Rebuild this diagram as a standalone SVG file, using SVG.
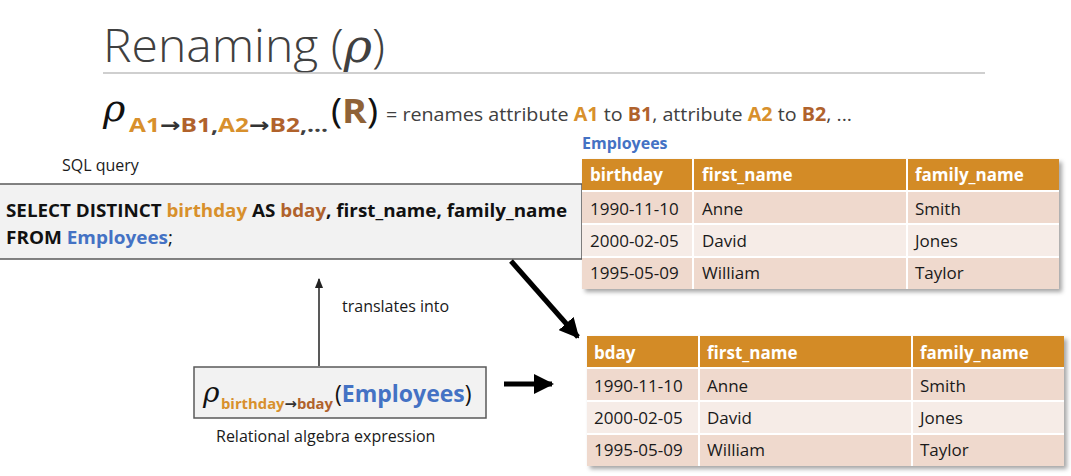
<svg xmlns="http://www.w3.org/2000/svg" width="1071" height="476" viewBox="0 0 1071 476">
<style>
text{font-family:"Open Sans","Noto Sans","Liberation Sans",sans-serif;}
.dk{fill:#404040}
.bk{fill:#111}
.or{fill:#d8902c;font-weight:bold}
.br{fill:#b0622c;font-weight:bold}
.bl{fill:#4472c4;font-weight:bold}
.arr{font-family:"DejaVu Sans",sans-serif;font-weight:bold;fill:#333}
.hd{fill:#d38b26}
.r1{fill:#efd9cd}
.r2{fill:#f6ece7}
.ht{fill:#fff;font-weight:bold;font-size:17px}
.ct{fill:#1a1a1a;font-size:17px}
.sep{stroke:#fff;stroke-width:2}
.box{fill:#f2f2f2;stroke:#595959;stroke-width:1.5}
.lbl{fill:#1a1a1a;font-size:16px}
.greek{font-family:"DejaVu Serif","Liberation Serif",serif;font-style:italic}
</style>
<defs>
<filter id="sh" x="-5%" y="-5%" width="115%" height="120%">
<feDropShadow dx="3" dy="3" stdDeviation="2" flood-color="#000" flood-opacity="0.35"/>
</filter>
<marker id="ah" viewBox="0 0 10 10" refX="9" refY="5" markerWidth="4" markerHeight="4" orient="auto" markerUnits="strokeWidth">
<path d="M0,0 L10,5 L0,10 z" fill="#000"/>
</marker>
<marker id="ahs" viewBox="0 0 10 10" refX="9" refY="5" markerWidth="7" markerHeight="7" orient="auto" markerUnits="strokeWidth">
<path d="M0,1 L10,5 L0,9 z" fill="#222"/>
</marker>
</defs>

<g id="title">
<text x="103" y="62" font-size="46" font-weight="300" class="dk" textLength="282" lengthAdjust="spacingAndGlyphs">Renaming (<tspan class="greek" font-weight="normal">ρ</tspan>)</text>
<line x1="103" y1="73" x2="985" y2="73" stroke="#bfbfbf" stroke-width="1.5"/>
</g>

<g id="definition">
<text x="103" y="121" font-size="38" class="greek bk">ρ</text>
<text x="129" y="132" font-size="20" textLength="199" lengthAdjust="spacingAndGlyphs"><tspan class="or">A1</tspan><tspan class="arr">→</tspan><tspan class="br">B1</tspan><tspan fill="#404040" font-weight="bold">,</tspan><tspan class="or">A2</tspan><tspan class="arr">→</tspan><tspan class="br">B2</tspan><tspan fill="#404040" font-weight="bold">,...</tspan></text>
<text x="331" y="123" font-size="34" textLength="47" lengthAdjust="spacingAndGlyphs"><tspan class="bk">(</tspan><tspan fill="#8f6237" font-weight="bold">R</tspan><tspan class="bk">)</tspan></text>
<text x="386" y="121" font-size="19" class="dk" textLength="466" lengthAdjust="spacingAndGlyphs">= renames attribute <tspan class="or">A1</tspan> to <tspan class="br">B1</tspan>, attribute <tspan class="or">A2</tspan> to <tspan class="br">B2</tspan>, ...</text>
</g>

<g id="sql-query">
<text x="62" y="171" class="lbl">SQL query</text>
<rect x="-2" y="184" width="584" height="75" class="box"/>
<text x="6" y="217" font-size="18" font-weight="bold" fill="#111" textLength="561" lengthAdjust="spacingAndGlyphs">SELECT DISTINCT <tspan class="or">birthday</tspan> AS <tspan class="br">bday</tspan>, first_name, family_name</text>
<text x="6" y="244" font-size="18" font-weight="bold" fill="#111" textLength="167" lengthAdjust="spacingAndGlyphs">FROM <tspan class="bl">Employees</tspan><tspan font-weight="normal">;</tspan></text>
</g>

<g id="employees-table">
<text x="582" y="149" font-size="16" class="bl">Employees</text>
<g filter="url(#sh)">
<rect x="582" y="159" width="477" height="130" class="r1"/>
</g>
<rect x="582" y="159" width="477" height="32" class="hd"/>
<rect x="582" y="224" width="477" height="33" class="r2"/>
<line x1="582" y1="191" x2="1059" y2="191" class="sep"/>
<line x1="582" y1="224" x2="1059" y2="224" class="sep"/>
<line x1="582" y1="257" x2="1059" y2="257" class="sep"/>
<line x1="693" y1="159" x2="693" y2="289" class="sep"/>
<line x1="907" y1="159" x2="907" y2="289" class="sep"/>
<text x="590" y="181" class="ht">birthday</text>
<text x="702" y="181" class="ht">first_name</text>
<text x="915" y="181" class="ht">family_name</text>
<text x="590" y="215" class="ct">1990-11-10</text>
<text x="702" y="215" class="ct">Anne</text>
<text x="915" y="215" class="ct">Smith</text>
<text x="590" y="247" class="ct">2000-02-05</text>
<text x="702" y="247" class="ct">David</text>
<text x="915" y="247" class="ct">Jones</text>
<text x="590" y="279" class="ct">1995-05-09</text>
<text x="702" y="279" class="ct">William</text>
<text x="915" y="279" class="ct">Taylor</text>
</g>

<g id="result-table">
<g filter="url(#sh)">
<rect x="587" y="336" width="477" height="130" class="r1"/>
</g>
<rect x="587" y="336" width="477" height="32" class="hd"/>
<rect x="587" y="401" width="477" height="33" class="r2"/>
<line x1="587" y1="368" x2="1064" y2="368" class="sep"/>
<line x1="587" y1="401" x2="1064" y2="401" class="sep"/>
<line x1="587" y1="434" x2="1064" y2="434" class="sep"/>
<line x1="699" y1="336" x2="699" y2="466" class="sep"/>
<line x1="912" y1="336" x2="912" y2="466" class="sep"/>
<text x="594" y="359" class="ht">bday</text>
<text x="707" y="359" class="ht">first_name</text>
<text x="920" y="359" class="ht">family_name</text>
<text x="594" y="392" class="ct">1990-11-10</text>
<text x="707" y="392" class="ct">Anne</text>
<text x="920" y="392" class="ct">Smith</text>
<text x="594" y="424" class="ct">2000-02-05</text>
<text x="707" y="424" class="ct">David</text>
<text x="920" y="424" class="ct">Jones</text>
<text x="594" y="456" class="ct">1995-05-09</text>
<text x="707" y="456" class="ct">William</text>
<text x="920" y="456" class="ct">Taylor</text>
</g>

<g id="ra-expression">
<rect x="194" y="367" width="292" height="51" class="box"/>
<text x="203" y="402" font-size="28" class="greek bk">ρ</text>
<text x="221" y="409" font-size="15" textLength="112" lengthAdjust="spacingAndGlyphs"><tspan class="or">birthday</tspan><tspan class="arr">→</tspan><tspan class="br">bday</tspan></text>
<text x="335" y="402" font-size="23"><tspan class="bk">(</tspan><tspan class="bl">Employees</tspan><tspan class="bk">)</tspan></text>
<text x="216" y="442" class="lbl">Relational algebra expression</text>
</g>

<g id="connectors">
<line x1="319" y1="366" x2="319" y2="279" stroke="#222" stroke-width="1.5" marker-end="url(#ahs)"/>
<text x="342" y="312" class="lbl">translates into</text>
<line x1="511" y1="261" x2="578" y2="337" stroke="#000" stroke-width="5" marker-end="url(#ah)"/>
<line x1="504" y1="384" x2="552" y2="384" stroke="#000" stroke-width="5" marker-end="url(#ah)"/>
</g>
</svg>
